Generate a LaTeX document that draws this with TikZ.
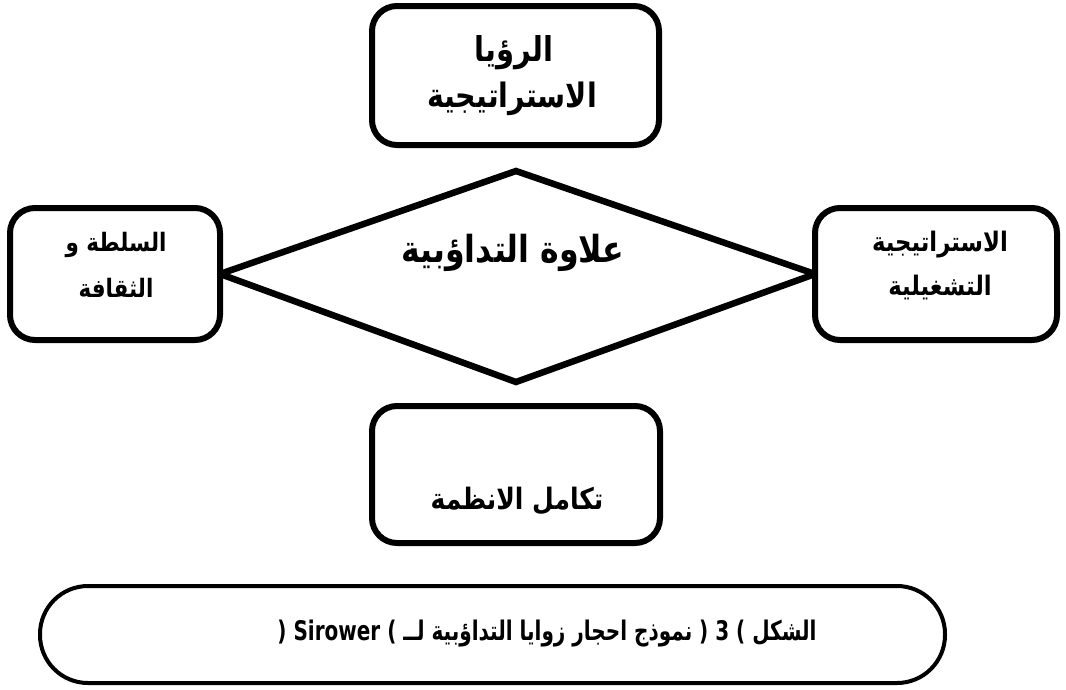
\documentclass[tikz,border=0pt]{standalone}
\usepackage{fontspec}
\newfontfamily\arabicfont[Script=Arabic]{DejaVu Sans}
\setmainfont{DejaVu Sans}
\TeXXeTstate=1
% label text: size, vertical stretch, text
\newcommand\artext[3]{\scalebox{1}[#2]{\fontsize{#1}{#1}\selectfont #3}}
\begin{document}
\begin{tikzpicture}[x=1pt,y=-1pt,
  box/.style={draw=black,line width=6pt,fill=white,rounded corners=25pt,
    inner sep=0pt,shape=rectangle},
  lbl/.style={inner sep=0pt,font=\arabicfont\bfseries},
  capbox/.style={draw=black,line width=4pt,rounded corners=48pt,
    inner sep=0pt,shape=rectangle}]
\useasboundingbox (0,0) rectangle (1066,689);

% top and bottom boxes
\node[box,minimum width=287pt,minimum height=139pt] (vision) at (515.5,75.5) {};
\node[box,minimum width=288pt,minimum height=137pt] (integ) at (516,474.5) {};

% side box positions, used by the diamond
\coordinate (powerC) at (115,274);
\coordinate (opsC) at (936,274);
\coordinate (dleft) at (220,274);
\coordinate (dright) at (815,274);
\coordinate (dtop) at (516,171);
\coordinate (dbot) at (516,382);

% central diamond spanning between the side boxes
\draw[line width=6.5pt,line join=miter] (dleft) -- (dtop) -- (dright) -- (dbot) -- cycle;

% side boxes, drawn over the diamond tips
\node[box,minimum width=210pt,minimum height=132pt] (power) at (powerC) {};
\node[box,minimum width=242pt,minimum height=132pt] (ops) at (opsC) {};

% labels
\node[lbl] (visionA) at (514,53) {\artext{29}{1.18}{\beginR الرؤيا\endR}};
\node[lbl] (visionB) at (512,99) {\artext{28.5}{1.18}{\beginR الاستراتيجية\endR}};
\node[lbl] (core) at (513,253) {\artext{31.6}{1.18}{\beginR علاوة التداؤبية\endR}};
\node[lbl] (powerA) at (116,245) {\artext{21.5}{1.18}{\beginR السلطة و\endR}};
\node[lbl] (powerB) at (116,288) {\artext{21.5}{1.18}{\beginR الثقافة\endR}};
\node[lbl] (opsA) at (940,245) {\artext{22.8}{1.18}{\beginR الاستراتيجية\endR}};
\node[lbl] (opsB) at (940,288) {\artext{22.8}{1.18}{\beginR التشغيلية\endR}};
\node[lbl] (integA) at (517,501) {\artext{25}{1.18}{\beginR تكامل الانظمة\endR}};

% caption
\node[capbox,minimum width=905pt,minimum height=97pt] (cap) at (492.5,634.5) {};
\node[lbl] (capText) at (547,634)
  {\artext{20}{1.35}{\beginR الشكل \beginL( 3 )\endL{} نموذج احجار زوايا التداؤبية لــ \beginL( Sirower )\endL\endR}};
\end{tikzpicture}
\end{document}
